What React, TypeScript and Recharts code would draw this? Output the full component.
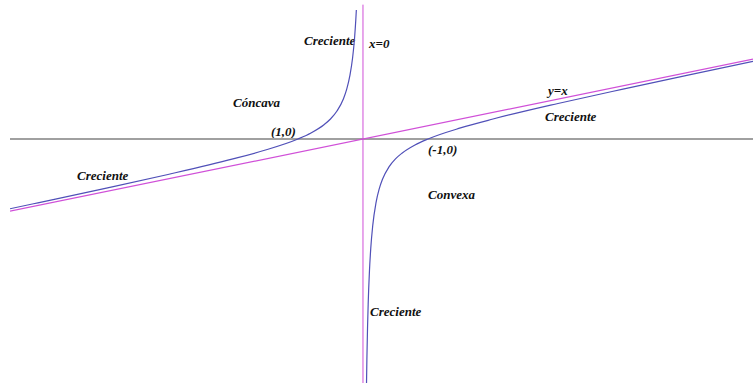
import React from 'react'
import { LineChart, Line, XAxis, YAxis, ReferenceLine, Customized } from 'recharts'

// f(x) = x - 1/x
const leftX = [-5.43, -5, -4, -3, -2, -1.5, -1, -0.8, -0.6, -0.5, -0.4, -0.3, -0.25, -0.2, -0.16, -0.13, -0.11, -0.102]
const leftY = [-5.25, -4.8, -3.75, -2.67, -1.5, -0.83, 0, 0.45, 1.07, 1.5, 2.1, 3.03, 3.75, 4.8, 6.09, 7.56, 8.98, 9.7]
const rightX = [0.053, 0.06, 0.07, 0.08, 0.1, 0.12, 0.15, 0.2, 0.25, 0.3, 0.4, 0.5, 0.6, 0.8, 1, 1.5, 2, 3, 4, 5, 6]
const rightY = [-18.81, -16.61, -14.22, -12.42, -9.9, -8.21, -6.52, -4.8, -3.75, -3.03, -2.1, -1.5, -1.07, -0.45, 0, 0.83, 1.5, 2.67, 3.75, 4.8, 5.83]
const asymX = [-5.43, 6]
const asymY = [-5.43, 6]

const labels = [
    { text: 'Creciente', x: 304, y: 45 },
    { text: 'x=0', x: 369, y: 48 },
    { text: 'Cóncava', x: 233, y: 107 },
    { text: '(1,0)', x: 271, y: 136 },
    { text: '(-1,0)', x: 428, y: 154 },
    { text: 'y=x', x: 548, y: 95 },
    { text: 'Creciente', x: 545, y: 121 },
    { text: 'Creciente', x: 77, y: 180 },
    { text: 'Convexa', x: 428, y: 199 },
    { text: 'Creciente', x: 370, y: 316 },
]

const toPoints = (xs: number[], ys: number[]) => xs.map((x, i) => ({ x, y: ys[i] }))

const Labels = () => (
    <g>
        {labels.map((l, i) => (
            <text
                key={i}
                x={l.x}
                y={l.y}
                style={{
                    fontFamily: '"Liberation Serif", "Times New Roman", serif',
                    fontStyle: 'italic',
                    fontWeight: 'bold',
                    fontSize: 13,
                }}
                fill="#111"
            >
                {l.text}
            </text>
        ))}
    </g>
)

const App: React.FC = () => {
    return (
        <div style={{ position: 'absolute', left: 0, top: 0, background: '#fff' }}>
            <LineChart
                width={753}
                height={383}
                margin={{ top: 0, right: 0, left: 10, bottom: 0 }}
            >
                <XAxis type="number" dataKey="x" domain={[-5.43, 6]} hide allowDataOverflow />
                <YAxis type="number" dataKey="y" domain={[-18.35, 10.45]} hide allowDataOverflow />
                <ReferenceLine y={0} stroke="#a0a0a0" strokeWidth={2} />
                <ReferenceLine
                    segment={[{ x: 0, y: 10.1 }, { x: 0, y: -18.35 }]}
                    stroke="#d050d8"
                    strokeWidth={1}
                />
                <Line
                    data={toPoints(asymX, asymY)}
                    dataKey="y"
                    type="linear"
                    stroke="#d050d8"
                    strokeWidth={1.2}
                    dot={false}
                    isAnimationActive={false}
                />
                <Line
                    data={toPoints(leftX, leftY)}
                    dataKey="y"
                    type="monotone"
                    stroke="#5050b8"
                    strokeWidth={1.2}
                    dot={false}
                    isAnimationActive={false}
                />
                <Line
                    data={toPoints(rightX, rightY)}
                    dataKey="y"
                    type="monotone"
                    stroke="#5050b8"
                    strokeWidth={1.2}
                    dot={false}
                    isAnimationActive={false}
                />
                <Customized component={Labels} />
            </LineChart>
        </div>
    )
}

export default App
